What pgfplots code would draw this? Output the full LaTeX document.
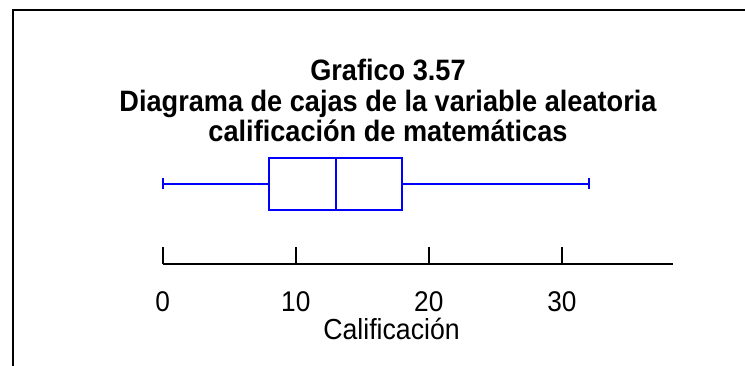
\documentclass[border=0pt]{standalone}
\usepackage{fontspec}
\setmainfont{Liberation Sans}[FakeStretch=0.92]
\usepackage{pgfplots}
\pgfplotsset{compat=1.18}
\usepgfplotslibrary{statistics}
\begin{document}
\begin{tikzpicture}[x=1pt,y=1pt]
\useasboundingbox (0,0) rectangle (745,366);
% frame
\draw[line width=2pt] (13,0) -- (13,356) -- (745,356);
% title
\node[anchor=base,font=\bfseries\fontsize{29.5}{33}\selectfont] at (388,366-81) {Grafico 3.57};
\node[anchor=base,font=\bfseries\fontsize{29.5}{33}\selectfont] at (388,366-112) {Diagrama de cajas de la variable aleatoria};
\node[anchor=base,font=\bfseries\fontsize{29.5}{33}\selectfont] at (388,366-142) {calificación de matemáticas};
\begin{axis}[
  at={(162.7pt,102.3pt)}, anchor=origin,
  scale only axis, width=510.3pt, height=120pt,
  xmin=0, xmax=38.35, ymin=0, ymax=120,
  axis x line=bottom, axis y line=none,
  axis line style={-, line width=2pt, black},
  x axis line style={-, line width=2pt, black},
  xtick={0,10,20,30},
  tick align=inside, major tick length=16.7pt,
  tick style={line width=1.6pt, black},
  /pgf/number format/assume math mode=true,
  xticklabel style={font=\fontsize{28.5}{32}\selectfont, anchor=base, yshift=-47.5pt},
  xlabel={Calificación},
  xlabel style={font=\fontsize{29}{32}\selectfont, at={(axis cs:17.2,0)}, anchor=base, yshift=-76pt},
  clip=false,
  boxplot/every box/.style={draw=blue, line width=2pt},
  boxplot/every whisker/.style={draw=blue, line width=2pt},
  boxplot/every median/.style={draw=blue, line width=2pt},
]
\addplot[blue, line width=2pt, mark=none,
  boxplot prepared={lower whisker=0, lower quartile=8, median=13,
    upper quartile=18, upper whisker=32, draw direction=x,
    draw position=80, box extend=52, whisker extend=11}]
  coordinates {};
\end{axis}
\end{tikzpicture}
\end{document}
